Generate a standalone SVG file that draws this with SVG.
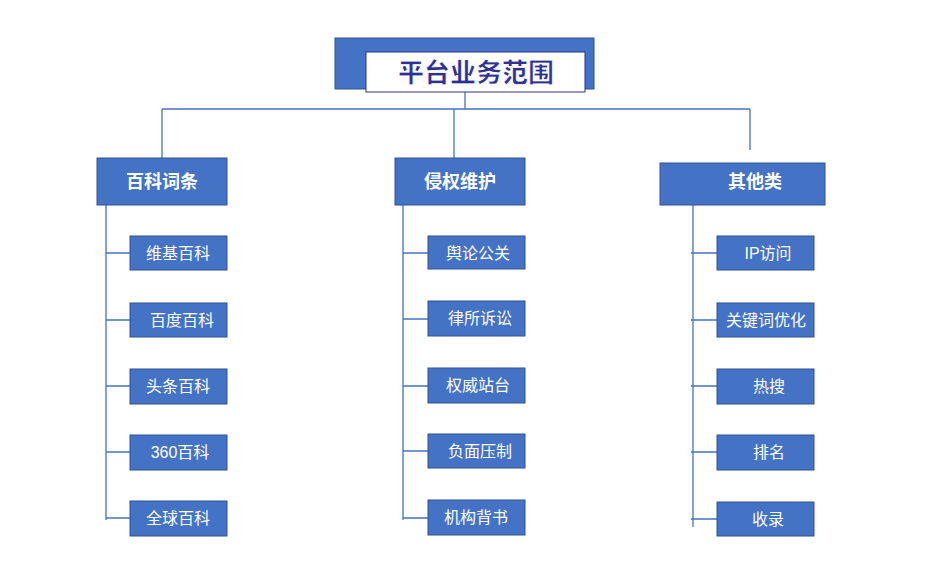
<svg xmlns="http://www.w3.org/2000/svg" width="929" height="571" viewBox="0 0 929 571">
<style>
.b{fill:#4472c4;stroke:#2f528f;stroke-width:1}
.c{stroke:#4472c4;stroke-width:1.3;fill:none}
.h{font-family:"Noto Sans CJK SC",serif;font-size:18px;font-weight:bold;fill:#fff;text-anchor:middle}
.t{font-family:"Liberation Sans","Noto Sans CJK SC",sans-serif;font-size:16px;fill:#fff;text-anchor:middle}
</style>
<rect width="929" height="571" fill="#fff"/>
<g id="conn">
<path class="c" d="M465 92V109M162 109H750M162 109V158M454 109V158M750 109V150"/>
<path class="c" d="M106 205V520M106 253H130M106 320H130M106 386H130M106 452H130M106 518H130"/>
<path class="c" d="M403 205V520M403 253H428M403 319H428M403 386H428M403 451H428M403 518H428"/>
<path class="c" d="M693 205V527M691 253H717M691 320H717M691 386H717M691 452H717M691 519H717"/>
</g>
<g id="title">
<rect x="335" y="38" width="259" height="51" class="b"/>
<rect x="366" y="52" width="219" height="40" fill="#fff" stroke="#2e3192" stroke-width="1"/>
<text x="476" y="82" font-family="Noto Sans CJK SC,sans-serif" font-size="26" font-weight="900" fill="#2e3192" stroke="#fff" stroke-width="0.8" text-anchor="middle">平台业务范围</text>
</g>
<g id="c1"><rect x="97" y="158" width="130" height="47" class="b"/><text x="162" y="188" class="h">百科词条</text></g>
<g id="c2"><rect x="395" y="158" width="130" height="47" class="b"/><text x="460" y="188" class="h">侵权维护</text></g>
<g id="c3"><rect x="660" y="163" width="165" height="42" class="b"/><text x="755" y="188" class="h">其他类</text></g>
<g id="l1"><rect x="130" y="236" width="97" height="34" class="b"/><text x="178" y="259" class="t">维基百科</text></g>
<g id="l2"><rect x="130" y="303" width="97" height="34" class="b"/><text x="182" y="326" class="t">百度百科</text></g>
<g id="l3"><rect x="130" y="369" width="97" height="35" class="b"/><text x="178" y="392" class="t">头条百科</text></g>
<g id="l4"><rect x="130" y="435" width="97" height="35" class="b"/><text x="180" y="458" class="t">360百科</text></g>
<g id="l5"><rect x="130" y="501" width="97" height="35" class="b"/><text x="178" y="524" class="t">全球百科</text></g>
<g id="m1"><rect x="428" y="236" width="97" height="33" class="b"/><text x="478" y="259" class="t">舆论公关</text></g>
<g id="m2"><rect x="428" y="301" width="97" height="35" class="b"/><text x="480" y="324" class="t">律所诉讼</text></g>
<g id="m3"><rect x="428" y="368" width="97" height="35" class="b"/><text x="478" y="391" class="t">权威站台</text></g>
<g id="m4"><rect x="428" y="434" width="97" height="34" class="b"/><text x="480" y="457" class="t">负面压制</text></g>
<g id="m5"><rect x="428" y="500" width="97" height="35" class="b"/><text x="476" y="523" class="t">机构背书</text></g>
<g id="r1"><rect x="717" y="236" width="97" height="34" class="b"/><text x="768" y="259" class="t">IP访问</text></g>
<g id="r2"><rect x="717" y="303" width="97" height="34" class="b"/><text x="766" y="326" class="t">关键词优化</text></g>
<g id="r3"><rect x="717" y="369" width="97" height="35" class="b"/><text x="769" y="392" class="t">热搜</text></g>
<g id="r4"><rect x="717" y="435" width="97" height="35" class="b"/><text x="769" y="458" class="t">排名</text></g>
<g id="r5"><rect x="717" y="502" width="97" height="34" class="b"/><text x="768" y="525" class="t">收录</text></g>
</svg>
